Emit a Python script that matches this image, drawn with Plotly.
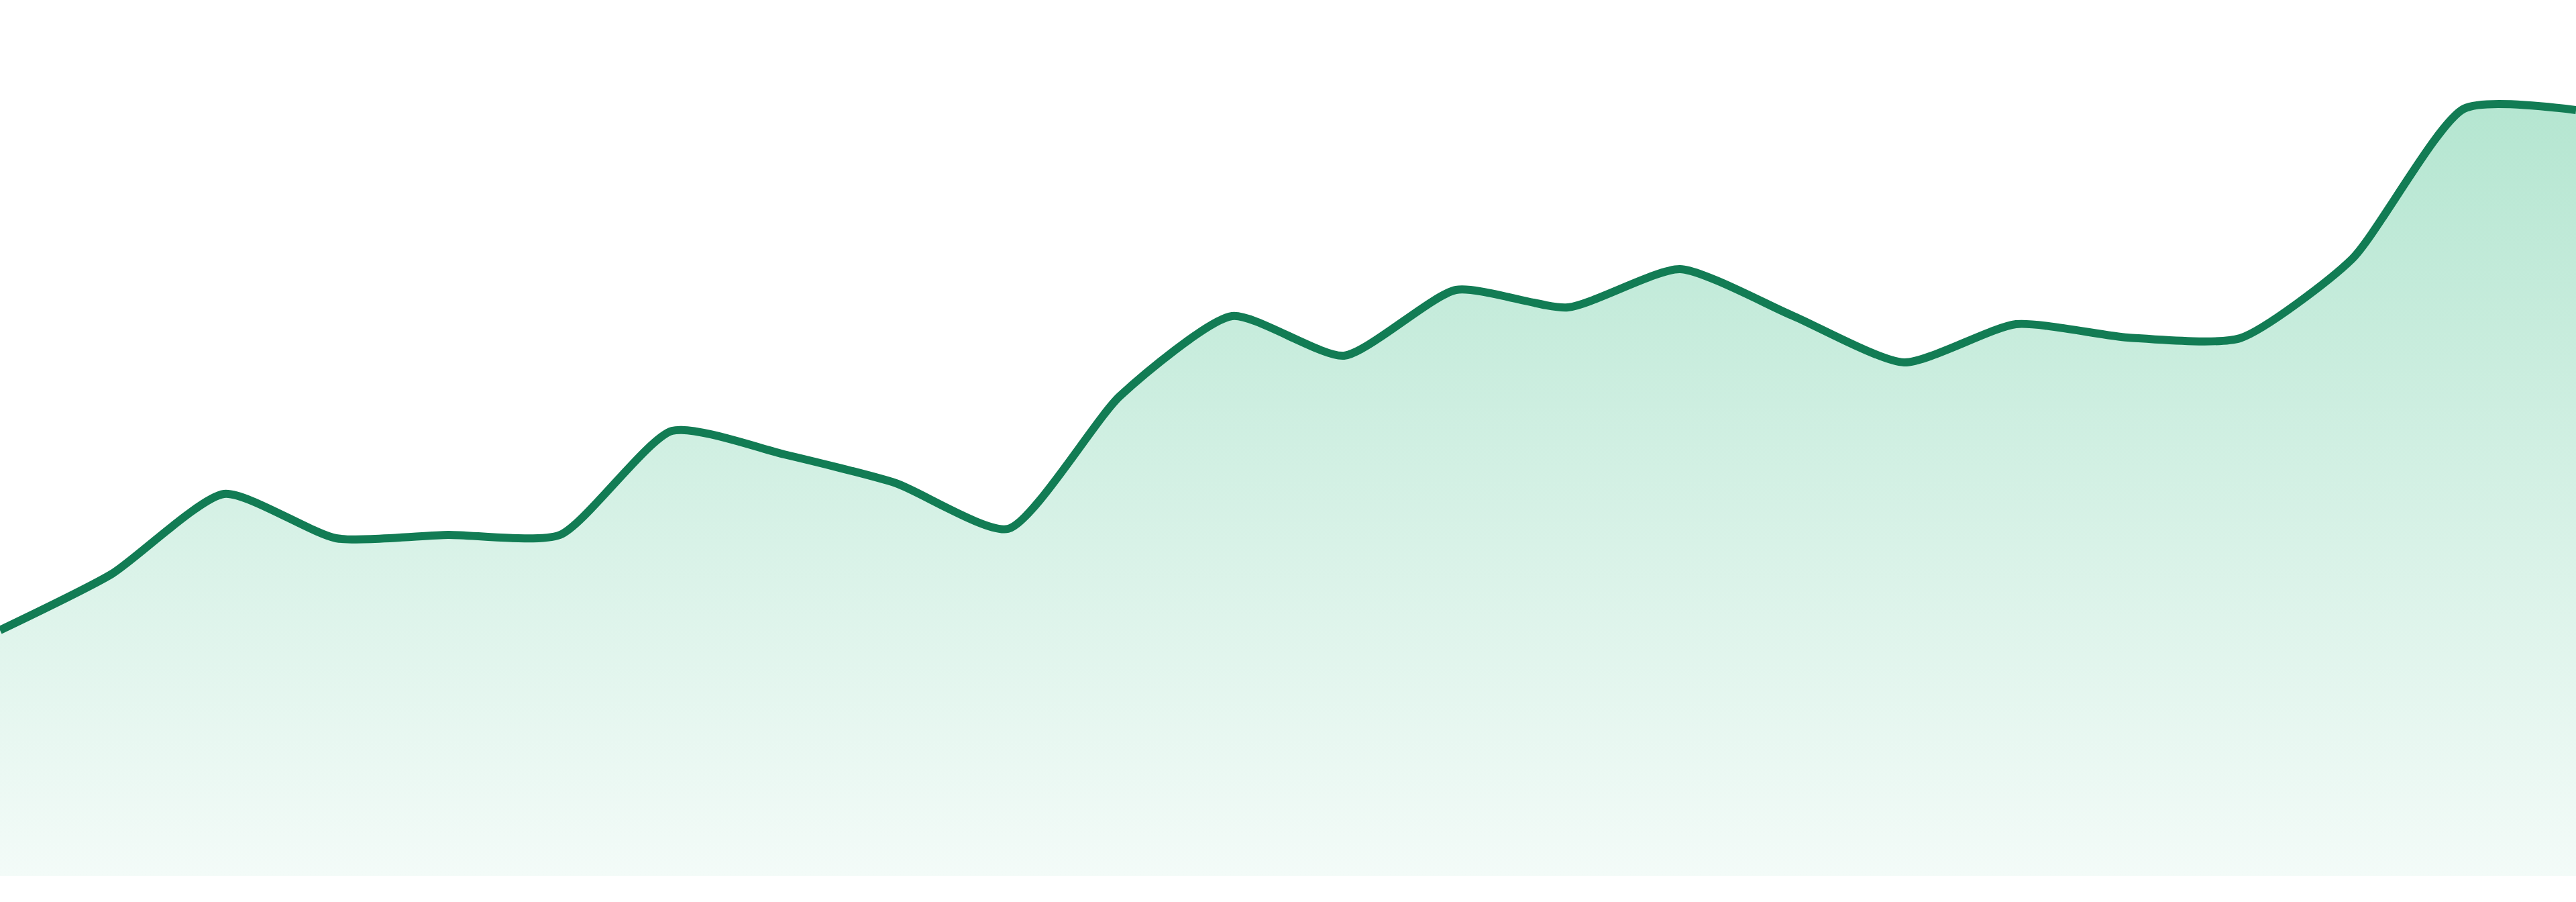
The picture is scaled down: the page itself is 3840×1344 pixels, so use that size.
import plotly.graph_objects as go

# one reading per day, 24 days
days = list(range(1, 25))
values = [36.6, 45.0, 56.9, 50.3, 50.8, 50.8, 66.3, 62.8, 58.5, 51.7, 71.5, 83.4,
          77.5, 87.3, 84.7, 90.4, 83.5, 76.5, 82.2, 80.2, 80.1, 91.9, 114.3, 114.1]

line_color = '#127c54'


def get_area_chart(days, values):

    fig = go.Figure(
        data=[
            go.Scatter(
                x = days,
                y = values,
                mode = 'lines+markers',
                marker = {'size': 1, 'opacity': 0},
                line = {'color': line_color, 'width': 12, 'shape': 'spline', 'smoothing': 0.6},
                fill = 'tozeroy',
                fillgradient = {
                    'type': 'vertical',
                    'start': 0,
                    'stop': max(values),
                    'colorscale': [[0, 'rgb(243,251,248)'], [1, 'rgb(181,230,209)']],
                },
                hoverinfo = 'skip',
            ),
        ]
    )

    fig.update_layout(
        width = 3840,
        height = 1344,
        margin = {'l': 0, 'r': 0, 't': 0, 'b': 39, 'pad': 0},
        paper_bgcolor = 'white',
        plot_bgcolor = 'white',
        showlegend = False,
    )
    # axes stay in place but draw nothing
    fig.update_xaxes(range = [days[0], days[-1]], showgrid = False, zeroline = False, showticklabels = False)
    fig.update_yaxes(range = [0, 130.5], showgrid = False, zeroline = False, showticklabels = False)

    return fig

if __name__ == '__main__':
    fig = get_area_chart(days, values)
    # drop the default body margin so the chart sits flush in the window
    fig.write_html('out.html', config = {'displayModeBar': False},
                   post_script = "document.body.style.margin='0';")
